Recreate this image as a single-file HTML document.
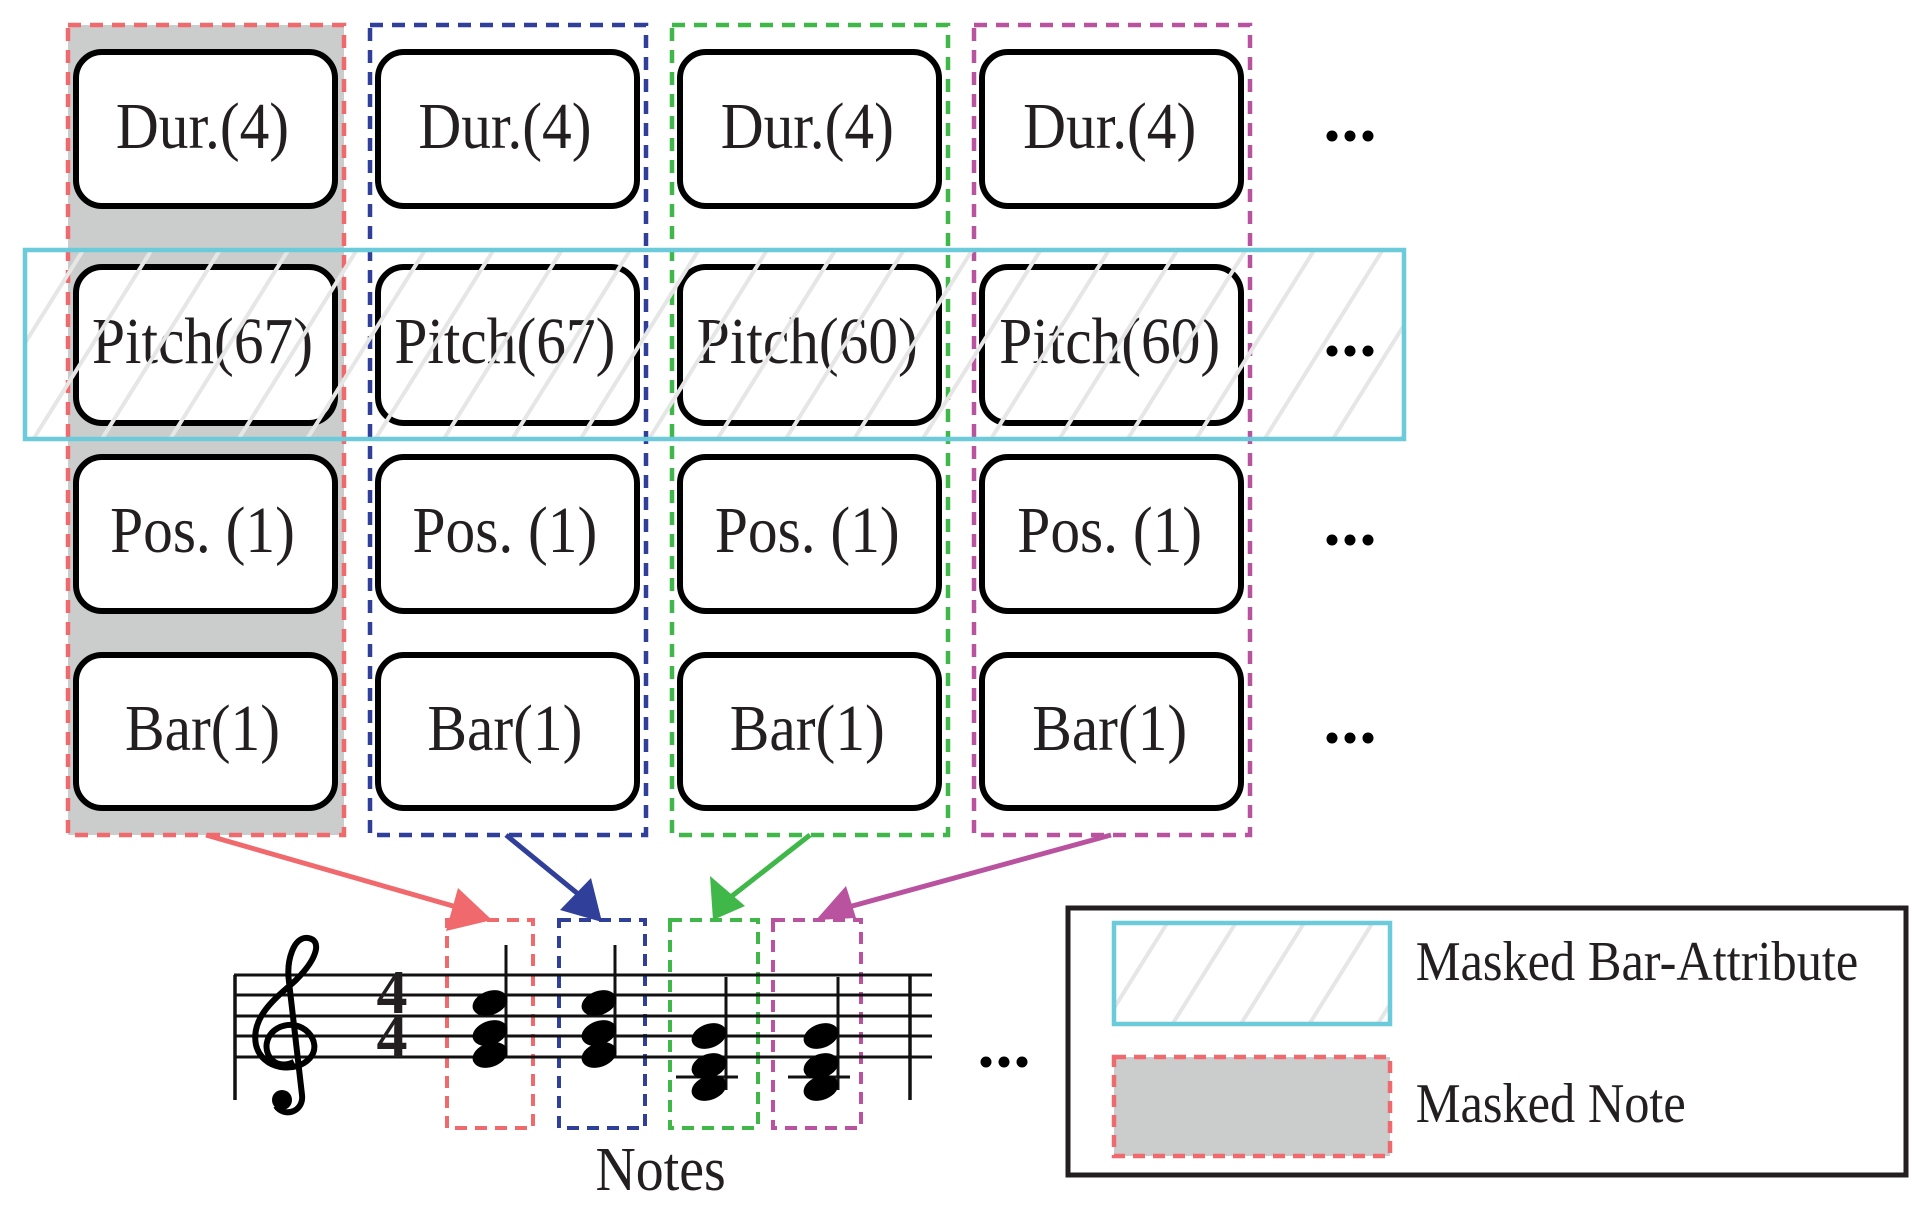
<!DOCTYPE html>
<html><head><meta charset="utf-8"><style>
html,body{margin:0;padding:0;background:#fff}
svg{display:block}
text{font-family:"Liberation Serif",serif;fill:#231f20}
</style></head><body>
<svg width="1926" height="1214" viewBox="0 0 1926 1214" xmlns="http://www.w3.org/2000/svg">
<defs>
<pattern id="h" patternUnits="userSpaceOnUse" width="58" height="58" patternTransform="rotate(32)">
<rect x="27" y="0" width="4" height="58" fill="#e6e6e6"/>
</pattern>
</defs>
<rect x="68" y="25" width="276" height="810" fill="#cbcdcc"/>
<g fill="none" stroke-width="4.5" stroke-dasharray="13 9">
<rect x="68" y="25" width="276" height="810" stroke="#f06a6d"/>
<rect x="370" y="25" width="276" height="810" stroke="#2f3f9a"/>
<rect x="672" y="25" width="276" height="810" stroke="#40b749"/>
<rect x="974" y="25" width="276" height="810" stroke="#b9539f"/>
</g>
<g fill="#fff" stroke="#000" stroke-width="6">
<rect x="76" y="52" width="259" height="154" rx="26"/>
<rect x="378" y="52" width="259" height="154" rx="26"/>
<rect x="680" y="52" width="259" height="154" rx="26"/>
<rect x="982" y="52" width="259" height="154" rx="26"/>
<rect x="76" y="267" width="259" height="156" rx="26"/>
<rect x="378" y="267" width="259" height="156" rx="26"/>
<rect x="680" y="267" width="259" height="156" rx="26"/>
<rect x="982" y="267" width="259" height="156" rx="26"/>
<rect x="76" y="457" width="259" height="154" rx="26"/>
<rect x="378" y="457" width="259" height="154" rx="26"/>
<rect x="680" y="457" width="259" height="154" rx="26"/>
<rect x="982" y="457" width="259" height="154" rx="26"/>
<rect x="76" y="655" width="259" height="153" rx="26"/>
<rect x="378" y="655" width="259" height="153" rx="26"/>
<rect x="680" y="655" width="259" height="153" rx="26"/>
<rect x="982" y="655" width="259" height="153" rx="26"/>
</g>
<g font-size="66" text-anchor="middle" transform="scale(0.9,1)">
<text x="225" y="148">Dur.(4)</text><text x="561" y="148">Dur.(4)</text><text x="897" y="148">Dur.(4)</text><text x="1233" y="148">Dur.(4)</text>
<text x="225" y="363">Pitch(67)</text><text x="561" y="363">Pitch(67)</text><text x="897" y="363">Pitch(60)</text><text x="1233" y="363">Pitch(60)</text>
<text x="225" y="552">Pos. (1)</text><text x="561" y="552">Pos. (1)</text><text x="897" y="552">Pos. (1)</text><text x="1233" y="552">Pos. (1)</text>
<text x="225" y="750">Bar(1)</text><text x="561" y="750">Bar(1)</text><text x="897" y="750">Bar(1)</text><text x="1233" y="750">Bar(1)</text>
</g>
<g fill="#000">
<circle cx="1332" cy="136" r="5.5"/><circle cx="1350" cy="136" r="5.5"/><circle cx="1368" cy="136" r="5.5"/>
<circle cx="1332" cy="351" r="5.5"/><circle cx="1350" cy="351" r="5.5"/><circle cx="1368" cy="351" r="5.5"/>
<circle cx="1332" cy="540" r="5.5"/><circle cx="1350" cy="540" r="5.5"/><circle cx="1368" cy="540" r="5.5"/>
<circle cx="1332" cy="738" r="5.5"/><circle cx="1350" cy="738" r="5.5"/><circle cx="1368" cy="738" r="5.5"/>
<circle cx="986" cy="1062" r="5.5"/><circle cx="1004" cy="1062" r="5.5"/><circle cx="1022" cy="1062" r="5.5"/>
</g>
<rect x="25" y="250" width="1379" height="189" fill="url(#h)" stroke="#6ccbdb" stroke-width="4.5"/>
<g stroke-width="5" fill="none">
<line x1="206" y1="835" x2="460" y2="908" stroke="#f06a6d"/>
<line x1="506" y1="835" x2="583" y2="898" stroke="#2f3f9a"/>
<line x1="810" y1="835" x2="732" y2="896" stroke="#40b749"/>
<line x1="1111" y1="835" x2="845" y2="908" stroke="#b9539f"/>
</g>
<polygon points="492,920 446,931 458,888" fill="#f06a6d"/>
<polygon points="602,922 560,910 591,878" fill="#2f3f9a"/>
<polygon points="713,920 710,876 745,906" fill="#40b749"/>
<polygon points="816,920 846,886 856,918" fill="#b9539f"/>
<g fill="none" stroke-width="4" stroke-dasharray="12 8">
<rect x="447" y="920" width="86" height="208" stroke="#f06a6d"/>
<rect x="559" y="920" width="86" height="208" stroke="#2f3f9a"/>
<rect x="670" y="920" width="88" height="208" stroke="#40b749"/>
<rect x="773" y="920" width="88" height="208" stroke="#b9539f"/>
</g>
<g stroke="#111" stroke-width="3">
<line x1="234" y1="975" x2="932" y2="975"/>
<line x1="234" y1="995" x2="932" y2="995"/>
<line x1="234" y1="1016" x2="932" y2="1016"/>
<line x1="234" y1="1036" x2="932" y2="1036"/>
<line x1="234" y1="1057" x2="932" y2="1057"/>
<line x1="235" y1="975" x2="235" y2="1100" stroke-width="3.5"/>
<line x1="910" y1="975" x2="910" y2="1100" stroke-width="3.5"/>
<line x1="506" y1="945" x2="506" y2="1058"/>
<line x1="615" y1="945" x2="615" y2="1058"/>
<line x1="726" y1="977" x2="726" y2="1090"/>
<line x1="838" y1="977" x2="838" y2="1090"/>
<line x1="676" y1="1077" x2="738" y2="1077"/>
<line x1="788" y1="1077" x2="850" y2="1077"/>
</g>
<path d="M294,1062 C268,1074 256,1040 278,1028 C302,1016 324,1042 310,1058 C296,1074 262,1070 256,1045 C250,1015 280,995 296,980 C318,958 322,940 308,938 C294,936 286,960 289,982 L302,1095 C304,1112 284,1118 276,1106" fill="none" stroke="#000" stroke-width="6"/>
<circle cx="282" cy="1100" r="10" fill="#000"/>
<text x="392" y="1013" font-size="62" font-weight="bold" text-anchor="middle" fill="#000">4</text>
<text x="392" y="1057" font-size="62" font-weight="bold" text-anchor="middle" fill="#000">4</text>
<g fill="#000">
<ellipse cx="490" cy="1003" rx="18" ry="12" transform="rotate(-20 490 1003)"/>
<ellipse cx="490" cy="1033" rx="18" ry="12" transform="rotate(-20 490 1033)"/>
<ellipse cx="490" cy="1055" rx="18" ry="12" transform="rotate(-20 490 1055)"/>
<ellipse cx="599" cy="1003" rx="18" ry="12" transform="rotate(-20 599 1003)"/>
<ellipse cx="599" cy="1033" rx="18" ry="12" transform="rotate(-20 599 1033)"/>
<ellipse cx="599" cy="1055" rx="18" ry="12" transform="rotate(-20 599 1055)"/>
<ellipse cx="709" cy="1036" rx="18" ry="12" transform="rotate(-20 709 1036)"/>
<ellipse cx="709" cy="1066" rx="18" ry="12" transform="rotate(-20 709 1066)"/>
<ellipse cx="709" cy="1088" rx="18" ry="12" transform="rotate(-20 709 1088)"/>
<ellipse cx="821" cy="1036" rx="18" ry="12" transform="rotate(-20 821 1036)"/>
<ellipse cx="821" cy="1066" rx="18" ry="12" transform="rotate(-20 821 1066)"/>
<ellipse cx="821" cy="1088" rx="18" ry="12" transform="rotate(-20 821 1088)"/>
</g>
<text x="734" y="1190" font-size="62" text-anchor="middle" transform="scale(0.9,1)">Notes</text>
<rect x="1068" y="908" width="838" height="267" fill="#fff" stroke="#231f20" stroke-width="5"/>
<rect x="1114" y="923" width="276" height="101" fill="url(#h)" stroke="#6ccbdb" stroke-width="4.5"/>
<rect x="1114" y="1057" width="276" height="99" fill="#cbcdcc" stroke="#f06a6d" stroke-width="4.5" stroke-dasharray="12 8"/>
<g font-size="56" transform="scale(0.9,1)">
<text x="1573" y="980">Masked Bar-Attribute</text>
<text x="1573" y="1122">Masked Note</text>
</g>
</svg>
</body></html>
